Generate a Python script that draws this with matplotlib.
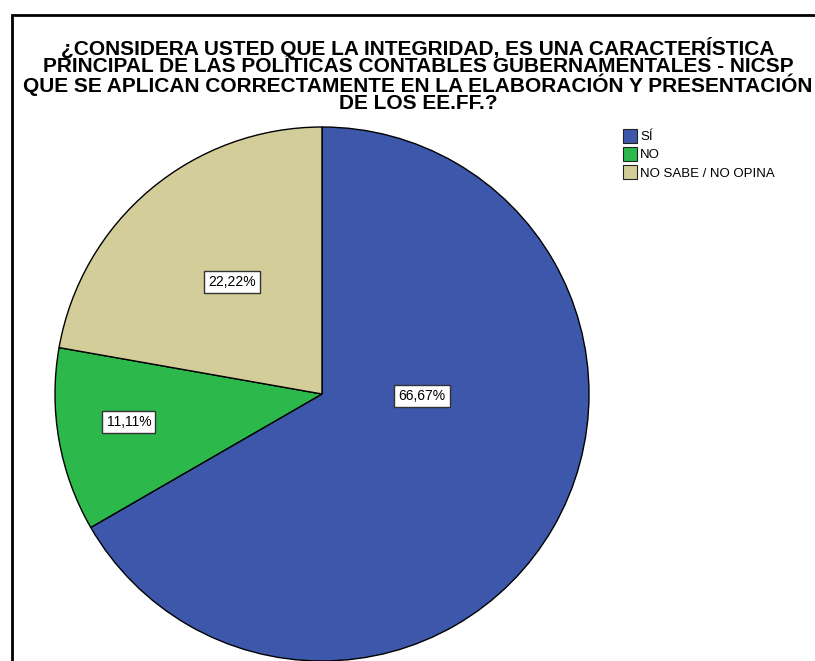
import matplotlib
matplotlib.use('Agg')
import matplotlib.pyplot as plt
from matplotlib.patches import Rectangle
from matplotlib.lines import Line2D

# datos del gráfico
categorias = ['SÍ', 'NO', 'NO SABE / NO OPINA']
porcentajes = [66.67, 11.11, 22.22]
etiquetas = ['66,67%', '11,11%', '22,22%']
colores = ['#3D58AB', '#2DB84B', '#D3CE99']
titulo = ('¿CONSIDERA USTED QUE LA INTEGRIDAD, ES UNA CARACTERÍSTICA\n'
          'PRINCIPAL DE LAS POLÍTICAS CONTABLES GUBERNAMENTALES - NICSP\n'
          'QUE SE APLICAN CORRECTAMENTE EN LA ELABORACIÓN Y PRESENTACIÓN\n'
          'DE LOS EE.FF.?')

plt.rcParams['font.family'] = ['Liberation Sans', 'DejaVu Sans']

W, H = 815, 661
fig = plt.figure(figsize=(W / 100, H / 100), dpi=100)

# marco exterior (estilo SPSS)
fig.patches.append(Rectangle((11.5 / W, -0.1), 1.2, (H - 15) / H + 0.1,
                             transform=fig.transFigure, fill=False,
                             edgecolor='black', linewidth=2))

# pie: centro (322, 394) px, radio 267 px
r = 267
ax = fig.add_axes([(322 - r) / W, (H - 394 - r) / H, 2 * r / W, 2 * r / H])
wedges, _ = ax.pie(porcentajes, colors=colores, startangle=90, counterclock=False,
                   wedgeprops=dict(edgecolor='black', linewidth=1))
ax.set_xlim(-1, 1)
ax.set_ylim(-1, 1)
ax.set_axis_off()

# posiciones de las etiquetas (en radios)
pos_etiquetas = [(0.375, -0.007), (-0.723, -0.105), (-0.337, 0.419)]
for txt, (x, y) in zip(etiquetas, pos_etiquetas):
    ax.text(x, y, txt, ha='center', va='center', fontsize=10,
            bbox=dict(boxstyle='square,pad=0.3', facecolor='white',
                      edgecolor='#333333', linewidth=1))

fig.text(418 / W, 1 - 75 / H, titulo, ha='center', va='center',
         fontsize=15, fontweight='bold', linespacing=0.88)

handles = [Line2D([], [], marker='s', linestyle='none', markersize=9.5,
                  markerfacecolor=c, markeredgecolor='#222222', markeredgewidth=0.8)
           for c in colores]
fig.legend(handles, categorias, loc='upper left', bbox_to_anchor=(625 / W, 1 - 131 / H),
           frameon=False, fontsize=9.5, handlelength=0.8, handletextpad=0.35,
           labelspacing=0.45, borderpad=0, borderaxespad=0)

plt.savefig('out.png', dpi=100)
